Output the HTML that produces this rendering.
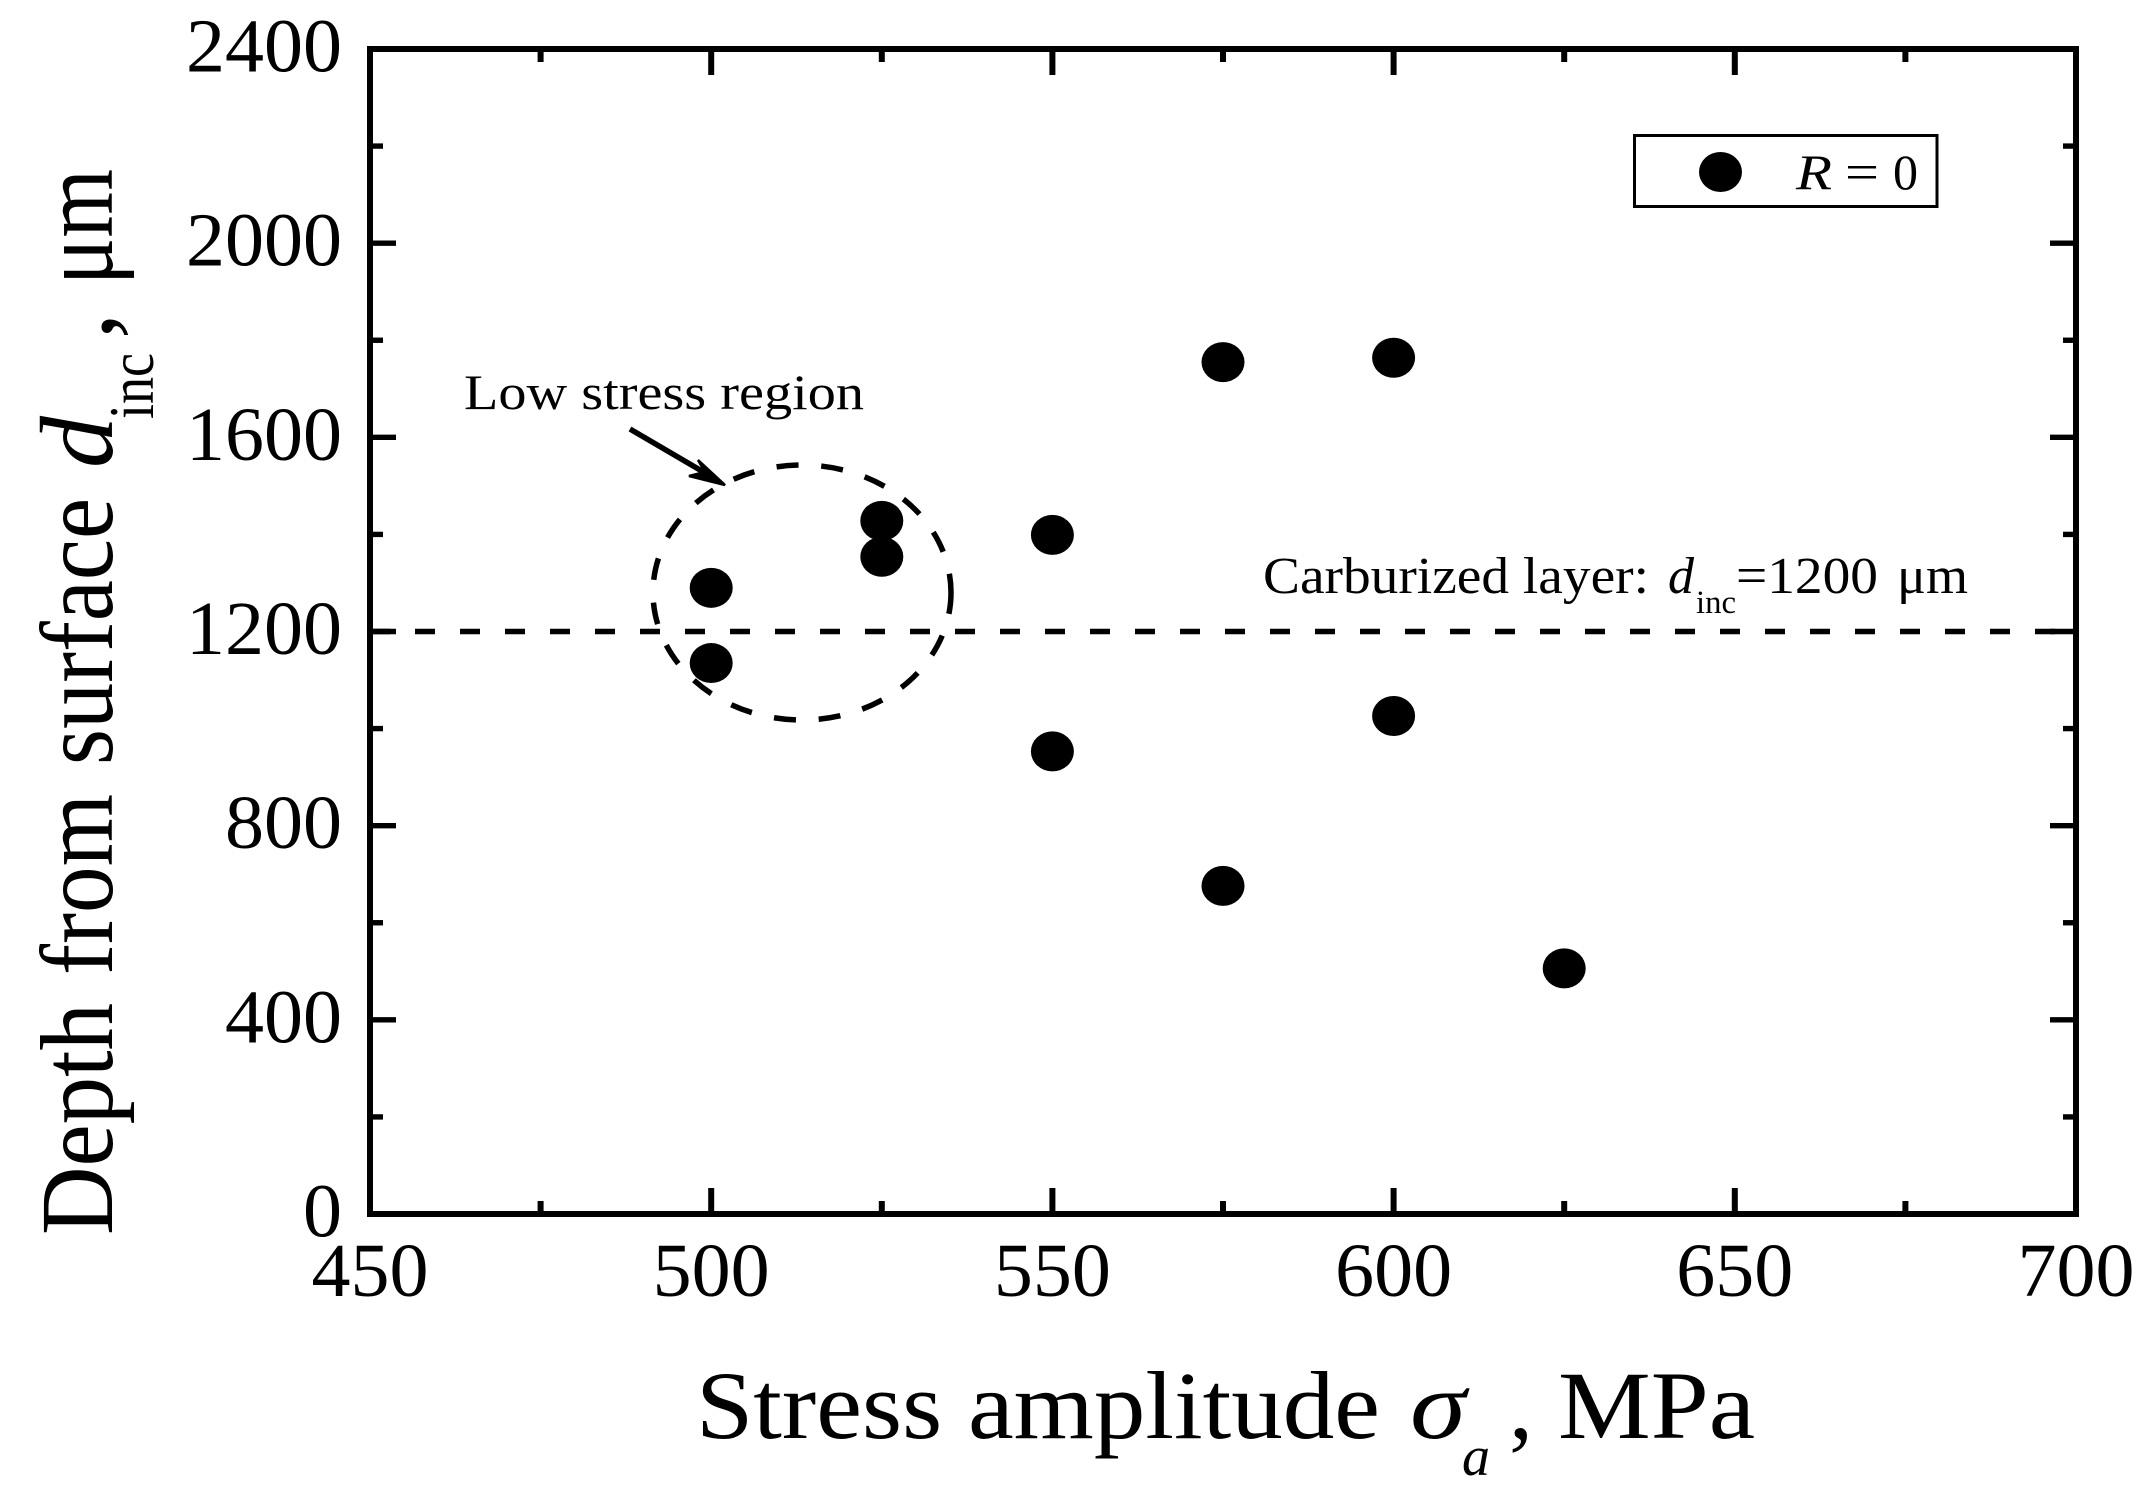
<!DOCTYPE html>
<html lang="en">
<head>
<meta charset="utf-8">
<title>Depth from surface vs stress amplitude</title>
<style>
  html, body { margin: 0; padding: 0; background: #fff; }
  svg { display: block; }
  text { font-family: "Liberation Serif", "Times New Roman", serif; fill: #000; }
  .it { font-style: italic; }
</style>
</head>
<body>
<svg id="chart" xmlns="http://www.w3.org/2000/svg" width="2153" height="1499" viewBox="0 0 2153 1499">
  <rect x="0" y="0" width="2153" height="1499" fill="#fff"/>
  <g id="ticks"></g>
  <g id="tick-labels" font-size="76"></g>
  <g id="refline"></g>

  <ellipse cx="802" cy="592.5" rx="149" ry="127.5" fill="none" stroke="#000" stroke-width="5.5" stroke-dasharray="21.5 22.8 22 22.8 22 22.8 22 22.8 22 22.8 22 22.8 22 22.8 22 22.8 22 22.8 22 22.8 22 22.8 22 22.8 22 22.8 22 22.8 22 22.8 22 22.8 22 22.8 22 22.8 22 22.8 21.5 0"/>
  <g id="points"></g>
  <rect id="frame" x="370" y="49" width="1706" height="1165" fill="none" stroke="#000" stroke-width="6"/>

  <g font-size="96">
    <text x="696" y="1438" textLength="684" lengthAdjust="spacingAndGlyphs">Stress amplitude</text>
    <text class="it" x="1410" y="1438" textLength="56" lengthAdjust="spacingAndGlyphs">σ</text>
    <text class="it" x="1462" y="1475" font-size="56">a</text>
    <text x="1509" y="1438">,</text>
    <text x="1558" y="1438" textLength="197" lengthAdjust="spacingAndGlyphs">MPa</text>
  </g>

  <g font-size="104">
    <text transform="translate(112 1235) rotate(-90)" textLength="232" lengthAdjust="spacingAndGlyphs">Depth</text>
    <text transform="translate(112 975) rotate(-90)" textLength="181" lengthAdjust="spacingAndGlyphs">from</text>
    <text transform="translate(112 765) rotate(-90)" textLength="267" lengthAdjust="spacingAndGlyphs">surface</text>
    <text class="it" transform="translate(112 468) rotate(-90)">d</text>
    <text transform="translate(153 419) rotate(-90)" font-size="64" textLength="66" lengthAdjust="spacingAndGlyphs">inc</text>
    <text transform="translate(112 339) rotate(-90)">,</text>
    <text transform="translate(112 285) rotate(-90)" textLength="116" lengthAdjust="spacingAndGlyphs">μm</text>
  </g>

  <g>
    <text x="464" y="409" font-size="50" textLength="400" lengthAdjust="spacingAndGlyphs">Low stress region</text>
    <line x1="630" y1="429" x2="712" y2="477" stroke="#000" stroke-width="5.5"/>
    <path d="M725 485 L698 460 L705 472 L689 476 Z" fill="#000" stroke="#000" stroke-width="2.5"/>
  </g>

  <g font-size="52">
    <text x="1263" y="593" textLength="386" lengthAdjust="spacingAndGlyphs">Carburized layer:</text>
    <text class="it" x="1668" y="593">d</text>
    <text x="1696" y="613" font-size="33" textLength="40" lengthAdjust="spacingAndGlyphs">inc</text>
    <text x="1736" y="593" textLength="142" lengthAdjust="spacingAndGlyphs">=1200</text>
    <text x="1897" y="593" textLength="71" lengthAdjust="spacingAndGlyphs">μm</text>
  </g>

  <g>
    <rect x="1634.5" y="135.5" width="302.5" height="71" fill="#fff" stroke="#000" stroke-width="3"/>
    <ellipse cx="1720.5" cy="172" rx="21.5" ry="20" fill="#000"/>
    <g font-size="50">
      <text class="it" x="1796" y="189" textLength="36" lengthAdjust="spacingAndGlyphs">R</text>
      <text x="1845" y="189" textLength="34" lengthAdjust="spacingAndGlyphs">=</text>
      <text x="1893" y="189">0</text>
    </g>
  </g>
</svg>

<script>
const xTickValues = [450, 500, 550, 600, 650, 700];
const xMinorTickValues = [475, 525, 575, 625, 675];
const yTickValues = [0, 400, 800, 1200, 1600, 2000, 2400];
const yMinorTickValues = [200, 600, 1000, 1400, 1800, 2200];
const xTickLabels = ['450', '500', '550', '600', '650', '700'];
const yTickLabels = ['0', '400', '800', '1200', '1600', '2000', '2400'];
const stressAmplitude = [500, 500, 525, 525, 550, 550, 575, 575, 600, 600, 625];
const depthFromSurface = [1290, 1135, 1428, 1354, 1399, 953, 1755, 676, 1764, 1026, 506];
const referenceDepth = [1200];

const SVG_NS = 'http://www.w3.org/2000/svg';
const xMin = 450, xMax = 700, yMin = 0, yMax = 2400;
const plotLeft = 370, plotRight = 2076, plotTop = 49, plotBottom = 1214;
function xScale(v) { return plotLeft + (v - xMin) / (xMax - xMin) * (plotRight - plotLeft); }
function yScale(v) { return plotBottom - (v - yMin) / (yMax - yMin) * (plotBottom - plotTop); }

const tickGroup = document.getElementById('ticks');
const labelGroup = document.getElementById('tick-labels');
const refGroup = document.getElementById('refline');
const pointGroup = document.getElementById('points');

function drawTick(name, x1, y1, x2, y2, width) {
  const ln = document.createElementNS(SVG_NS, 'line');
  
  
  ln.setAttribute('x1', x1);
  ln.setAttribute('y1', y1);
  ln.setAttribute('x2', x2);
  ln.setAttribute('y2', y2);
  ln.setAttribute('stroke', '#000');
  ln.setAttribute('stroke-width', width);
  tickGroup.appendChild(ln);
}

const majorLen = 26, minorLen = 13, xTickW = 6, yTickW = 5.4;
xTickValues.forEach(function (v) {
  const x = xScale(v);
  drawTick('x-major-tick', x, plotBottom, x, plotBottom - majorLen, xTickW);
  drawTick('x-major-tick-top', x, plotTop, x, plotTop + majorLen, xTickW);
});
xMinorTickValues.forEach(function (v) {
  const x = xScale(v);
  drawTick('x-minor-tick', x, plotBottom, x, plotBottom - minorLen, xTickW);
  drawTick('x-minor-tick-top', x, plotTop, x, plotTop + minorLen, xTickW);
});
yTickValues.forEach(function (v) {
  const y = yScale(v);
  drawTick('y-major-tick', plotLeft, y, plotLeft + majorLen, y, yTickW);
  drawTick('y-major-tick-right', plotRight, y, plotRight - majorLen, y, yTickW);
});
yMinorTickValues.forEach(function (v) {
  const y = yScale(v);
  drawTick('y-minor-tick', plotLeft, y, plotLeft + minorLen, y, yTickW);
  drawTick('y-minor-tick-right', plotRight, y, plotRight - minorLen, y, yTickW);
});

const digitAdvance = 39;
xTickValues.forEach(function (v, i) {
  const t = document.createElementNS(SVG_NS, 'text');
  
  
  t.setAttribute('x', xScale(v));
  t.setAttribute('y', 1296);
  t.setAttribute('text-anchor', 'middle');
  t.setAttribute('textLength', xTickLabels[i].length * digitAdvance);
  t.setAttribute('lengthAdjust', 'spacingAndGlyphs');
  t.textContent = xTickLabels[i];
  labelGroup.appendChild(t);
});
yTickValues.forEach(function (v, i) {
  const t = document.createElementNS(SVG_NS, 'text');
  
  
  t.setAttribute('x', 342);
  t.setAttribute('y', yScale(v) + 22.5);
  t.setAttribute('text-anchor', 'end');
  t.setAttribute('textLength', yTickLabels[i].length * digitAdvance);
  t.setAttribute('lengthAdjust', 'spacingAndGlyphs');
  t.textContent = yTickLabels[i];
  labelGroup.appendChild(t);
});

referenceDepth.forEach(function (v) {
  const ln = document.createElementNS(SVG_NS, 'line');
  
  
  ln.setAttribute('x1', xScale(xMin));
  ln.setAttribute('x2', xScale(xMax));
  ln.setAttribute('y1', yScale(v));
  ln.setAttribute('y2', yScale(v));
  ln.setAttribute('stroke', '#000');
  ln.setAttribute('stroke-width', 5.4);
  ln.setAttribute('stroke-dasharray', '20 25');
  refGroup.appendChild(ln);
});

stressAmplitude.forEach(function (s, i) {
  const p = document.createElementNS(SVG_NS, 'ellipse');
  
  
  p.setAttribute('cx', xScale(s));
  p.setAttribute('cy', yScale(depthFromSurface[i]));
  p.setAttribute('rx', 21.5);
  p.setAttribute('ry', 20);
  p.setAttribute('fill', '#000');
  pointGroup.appendChild(p);
});
</script>
</body>
</html>
